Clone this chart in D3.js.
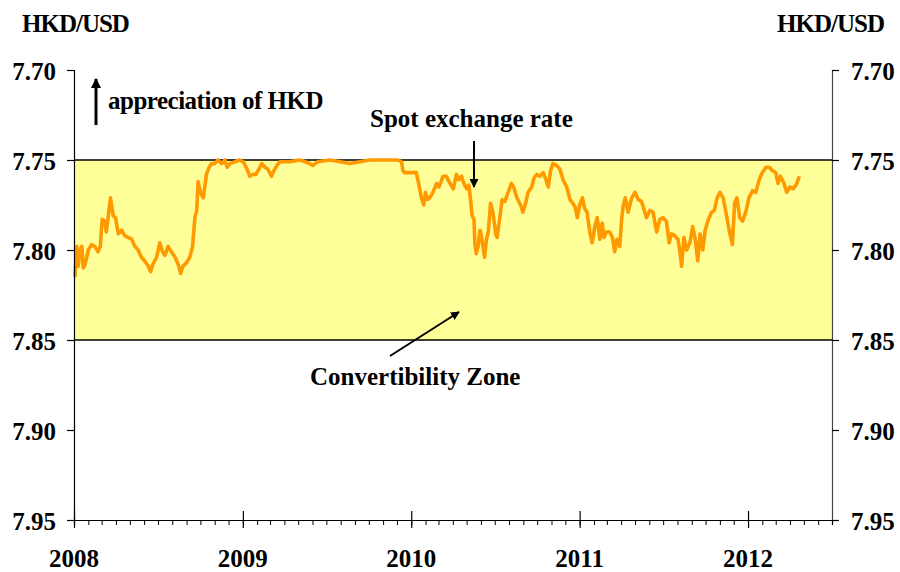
<!DOCTYPE html>
<html>
<head>
<meta charset="utf-8">
<script src="https://cdn.jsdelivr.net/npm/d3@7/dist/d3.min.js"></script>
<style>
  html, body { margin: 0; padding: 0; background: #fff; }
  svg { display: block; }
  text { font-family: "Liberation Serif", "Times New Roman", serif; font-weight: bold; fill: #000; }
</style>
</head>
<body>
<svg id="chart" width="900" height="572"></svg>
<script>
// ---------------- data ----------------
const dates = [
  "2008-01-03","2008-01-07","2008-01-10","2008-01-14","2008-01-18","2008-01-21","2008-01-25","2008-02-01","2008-02-08","2008-02-15",
  "2008-02-22","2008-02-27","2008-03-02","2008-03-08","2008-03-11","2008-03-15","2008-03-20","2008-03-26","2008-03-31","2008-04-06",
  "2008-04-13","2008-04-20","2008-04-27","2008-05-05","2008-05-12","2008-05-19","2008-05-26","2008-06-02","2008-06-10","2008-06-15",
  "2008-06-20","2008-06-28","2008-07-05","2008-07-11","2008-07-16","2008-07-23","2008-07-30","2008-08-07","2008-08-14","2008-08-19",
  "2008-08-24","2008-09-01","2008-09-08","2008-09-14","2008-09-19","2008-09-23","2008-09-26","2008-10-01","2008-10-07","2008-10-11",
  "2008-10-14","2008-10-20","2008-10-25","2008-11-01","2008-11-08","2008-11-16","2008-11-23","2008-11-28","2008-12-04","2008-12-15",
  "2008-12-25",
  "2009-01-02","2009-01-10","2009-01-16","2009-01-23","2009-01-29","2009-02-05","2009-02-11","2009-02-18","2009-02-24","2009-03-04",
  "2009-03-09","2009-03-16","2009-03-22","2009-04-13","2009-05-04","2009-05-17","2009-06-02","2009-06-12","2009-07-09","2009-07-31",
  "2009-08-21","2009-09-12","2009-10-03","2009-10-25","2009-11-16","2009-12-03","2009-12-11","2009-12-14","2009-12-18","2009-12-25",
  "2010-01-02","2010-01-12","2010-01-17","2010-01-23","2010-01-28","2010-02-01","2010-02-05","2010-02-10","2010-02-17","2010-02-25",
  "2010-03-02","2010-03-08","2010-03-11","2010-03-18","2010-03-26","2010-04-02","2010-04-09","2010-04-14","2010-04-20","2010-04-25",
  "2010-05-01","2010-05-06","2010-05-09","2010-05-13","2010-05-17","2010-05-19","2010-05-22","2010-05-26","2010-05-30","2010-06-02",
  "2010-06-06","2010-06-09","2010-06-13","2010-06-17","2010-06-22","2010-06-27","2010-07-03","2010-07-06","2010-07-12","2010-07-17",
  "2010-07-23","2010-07-30","2010-08-06","2010-08-11","2010-08-18","2010-08-26","2010-08-31","2010-09-06","2010-09-11","2010-09-19",
  "2010-09-24","2010-09-30","2010-10-07","2010-10-14","2010-10-20","2010-10-25","2010-10-30","2010-11-04","2010-11-12","2010-11-19",
  "2010-11-26","2010-12-04","2010-12-11","2010-12-17","2010-12-22","2010-12-27",
  "2011-01-01","2011-01-07","2011-01-12","2011-01-17","2011-01-23","2011-01-28","2011-02-03","2011-02-08","2011-02-14","2011-02-19",
  "2011-02-23","2011-02-28","2011-03-07","2011-03-13","2011-03-18","2011-03-23","2011-03-29","2011-04-02","2011-04-05","2011-04-10",
  "2011-04-16","2011-04-24","2011-05-01","2011-05-08","2011-05-15","2011-05-20","2011-05-26","2011-06-02","2011-06-09","2011-06-17",
  "2011-06-24","2011-07-01","2011-07-08","2011-07-14","2011-07-19","2011-07-26","2011-08-02","2011-08-06","2011-08-10","2011-08-15",
  "2011-08-21","2011-08-28","2011-09-03","2011-09-08","2011-09-14","2011-09-19","2011-09-25","2011-09-30","2011-10-07","2011-10-14",
  "2011-10-20","2011-10-26","2011-11-01","2011-11-08","2011-11-14","2011-11-21","2011-11-28","2011-12-03","2011-12-08","2011-12-14",
  "2011-12-20","2011-12-27",
  "2012-01-03","2012-01-11","2012-01-18","2012-01-25","2012-02-01","2012-02-09","2012-02-16","2012-02-23","2012-03-01","2012-03-06",
  "2012-03-11","2012-03-19","2012-03-25","2012-04-01","2012-04-08","2012-04-16","2012-04-21"
];
const spotRate = [
  7.815,7.798,7.809,7.800,7.798,7.810,7.808,7.800,7.797,7.798,
  7.801,7.798,7.783,7.784,7.790,7.782,7.771,7.781,7.782,7.791,
  7.789,7.792,7.793,7.794,7.798,7.800,7.804,7.806,7.809,7.812,
  7.808,7.804,7.796,7.801,7.803,7.798,7.801,7.804,7.808,7.813,
  7.809,7.807,7.804,7.798,7.782,7.778,7.762,7.768,7.771,7.764,
  7.758,7.754,7.752,7.752,7.750,7.752,7.750,7.754,7.752,7.751,
  7.750,
  7.751,7.755,7.759,7.758,7.758,7.755,7.752,7.754,7.755,7.759,
  7.756,7.753,7.751,7.751,7.750,7.751,7.753,7.751,7.750,7.751,
  7.752,7.751,7.750,7.750,7.750,7.750,7.751,7.756,7.757,7.757,
  7.757,7.757,7.763,7.771,7.775,7.768,7.772,7.771,7.768,7.763,
  7.765,7.761,7.759,7.759,7.763,7.766,7.758,7.761,7.759,7.763,
  7.766,7.764,7.771,7.781,7.783,7.797,7.802,7.798,7.789,7.792,
  7.799,7.804,7.794,7.790,7.774,7.779,7.791,7.793,7.782,7.772,
  7.773,7.768,7.763,7.765,7.771,7.775,7.779,7.774,7.768,7.765,
  7.760,7.758,7.759,7.757,7.761,7.765,7.756,7.752,7.753,7.755,
  7.761,7.765,7.772,7.774,7.776,7.782,
  7.775,7.771,7.777,7.779,7.790,7.796,7.787,7.782,7.794,7.785,
  7.793,7.790,7.790,7.793,7.801,7.794,7.798,7.783,7.776,7.771,
  7.779,7.771,7.768,7.772,7.773,7.777,7.782,7.778,7.779,7.790,
  7.783,7.782,7.784,7.796,7.791,7.792,7.794,7.800,7.809,7.793,
  7.800,7.796,7.787,7.793,7.806,7.791,7.800,7.789,7.783,7.779,
  7.778,7.771,7.768,7.771,7.779,7.789,7.797,7.774,7.771,7.782,
  7.784,7.779,
  7.771,7.767,7.768,7.761,7.757,7.754,7.754,7.756,7.757,7.763,
  7.759,7.763,7.768,7.765,7.766,7.763,7.759
];
const yTicks = [7.70, 7.75, 7.80, 7.85, 7.90, 7.95];
const yearLabels = ["2008", "2009", "2010", "2011", "2012"];
const zoneBounds = [7.75, 7.85];
const domainDates = ["2008-01-01", "2012-07-01"];
const unitLabel = "HKD/USD";
const annotations = {
  appreciation: "appreciation of HKD",
  spot: "Spot exchange rate",
  zone: "Convertibility Zone"
};

// ---------------- chart ----------------
(function () {
const parse = d3.utcParse("%Y-%m-%d");
const series = dates.map((d, i) => ({ date: parse(d), value: spotRate[i] }));

const svg = d3.select("#chart");
const mLeft = 74, mRight = 832, mTop = 70, mBottom = 520;

const x = d3.scaleUtc().domain(domainDates.map(parse)).range([mLeft, mRight]);
const y = d3.scaleLinear().domain([7.70, 7.95]).range([mTop, mBottom]);

const defs = svg.append("defs");
[["arrowBig", 3.4], ["arrowSmall", 4.4]].forEach(([id, s]) => {
  defs.append("marker")
    .attr("id", id)
    .attr("viewBox", "0 0 10 10")
    .attr("refX", 9).attr("refY", 5)
    .attr("markerWidth", s).attr("markerHeight", s)
    .attr("markerUnits", "strokeWidth")
    .attr("orient", "auto")
    .append("path").attr("d", "M0,0 L10,5 L0,10 z").attr("fill", "#000");
});

// convertibility zone band
svg.append("rect")
  .attr("x", mLeft).attr("width", mRight - mLeft)
  .attr("y", y(zoneBounds[0]))
  .attr("height", y(zoneBounds[1]) - y(zoneBounds[0]))
  .attr("fill", "#FFFF99");

// zone bound lines
svg.selectAll("line.bound").data(zoneBounds).enter().append("line")
  .attr("class", "bound")
  .attr("x1", mLeft).attr("x2", mRight)
  .attr("y1", d => y(d)).attr("y2", d => y(d))
  .attr("stroke", "#000").attr("stroke-width", 1.3);

// spot rate line
svg.append("path")
  .datum(series)
  .attr("fill", "none")
  .attr("stroke", "#FF9900")
  .attr("stroke-width", 3.6)
  .attr("stroke-linejoin", "round")
  .attr("d", d3.line().x(d => x(d.date)).y(d => y(d.value)));

// left axis
const yLeft = svg.append("g").attr("transform", `translate(${mLeft},0)`)
  .call(d3.axisLeft(y).tickValues(yTicks).tickFormat(d3.format(".2f")).tickSize(7).tickPadding(11));
// right axis
const yRight = svg.append("g").attr("transform", `translate(${mRight},0)`)
  .call(d3.axisRight(y).tickValues(yTicks).tickFormat(d3.format(".2f")).tickSize(7).tickPadding(12));
[yLeft, yRight].forEach(g => {
  g.select(".domain").attr("stroke", "#000").attr("stroke-width", 1.2);
  g.selectAll(".tick line").attr("stroke", "#000").attr("stroke-width", 1.2);
  g.selectAll(".tick text")
    .attr("font-family", '"Liberation Serif", "Times New Roman", serif')
    .attr("font-weight", "bold").attr("font-size", 25).attr("fill", "#000")
    .attr("dy", "0.38em");
});
yRight.select(".domain").attr("stroke", "#444");

// bottom axis: monthly minor ticks
const xMinor = svg.append("g").attr("transform", `translate(0,${mBottom})`)
  .call(d3.axisBottom(x).ticks(d3.utcMonth.every(1)).tickSize(5).tickFormat(""));
xMinor.select(".domain").attr("stroke", "#000").attr("stroke-width", 1.2);
xMinor.selectAll(".tick line").attr("stroke", "#000");

// bottom axis: yearly major ticks crossing the axis
const yearDates = yearLabels.map(s => parse(s + "-01-01"));
const xMajorDown = svg.append("g").attr("transform", `translate(0,${mBottom})`)
  .call(d3.axisBottom(x).tickValues(yearDates).tickSize(8).tickFormat(""));
const xMajorUp = svg.append("g").attr("transform", `translate(0,${mBottom})`)
  .call(d3.axisTop(x).tickValues(yearDates).tickSize(9).tickFormat(""));
[xMajorDown, xMajorUp].forEach(g => {
  g.select(".domain").remove();
  g.selectAll(".tick line").attr("stroke", "#000").attr("stroke-width", 1.2);
});

// year labels
svg.selectAll("text.year").data(yearLabels).enter().append("text")
  .attr("class", "year")
  .attr("x", d => x(parse(d + "-01-01")))
  .attr("y", 567)
  .attr("text-anchor", "middle")
  .attr("font-size", 25)
  .text(d => d);

// unit labels
svg.append("text").attr("x", 22).attr("y", 32).attr("font-size", 25)
  .attr("letter-spacing", -1).text(unitLabel);
svg.append("text").attr("x", 884).attr("y", 32).attr("font-size", 25)
  .attr("letter-spacing", -1).attr("text-anchor", "end").text(unitLabel);

// annotations
svg.append("text").attr("x", 108).attr("y", 109).attr("font-size", 25)
  .attr("letter-spacing", -0.5).text(annotations.appreciation);
svg.append("line").attr("x1", 96).attr("y1", 125).attr("x2", 96).attr("y2", 79)
  .attr("stroke", "#000").attr("stroke-width", 3).attr("marker-end", "url(#arrowBig)");

svg.append("text").attr("x", 370).attr("y", 127).attr("font-size", 25)
  .text(annotations.spot);
svg.append("line").attr("x1", 474).attr("y1", 141).attr("x2", 474).attr("y2", 187)
  .attr("stroke", "#000").attr("stroke-width", 2).attr("marker-end", "url(#arrowSmall)");

svg.append("text").attr("x", 310).attr("y", 385).attr("font-size", 25)
  .text(annotations.zone);
svg.append("line").attr("x1", 390).attr("y1", 356).attr("x2", 459).attr("y2", 312)
  .attr("stroke", "#000").attr("stroke-width", 2).attr("marker-end", "url(#arrowSmall)");
})();
</script>
</body>
</html>
